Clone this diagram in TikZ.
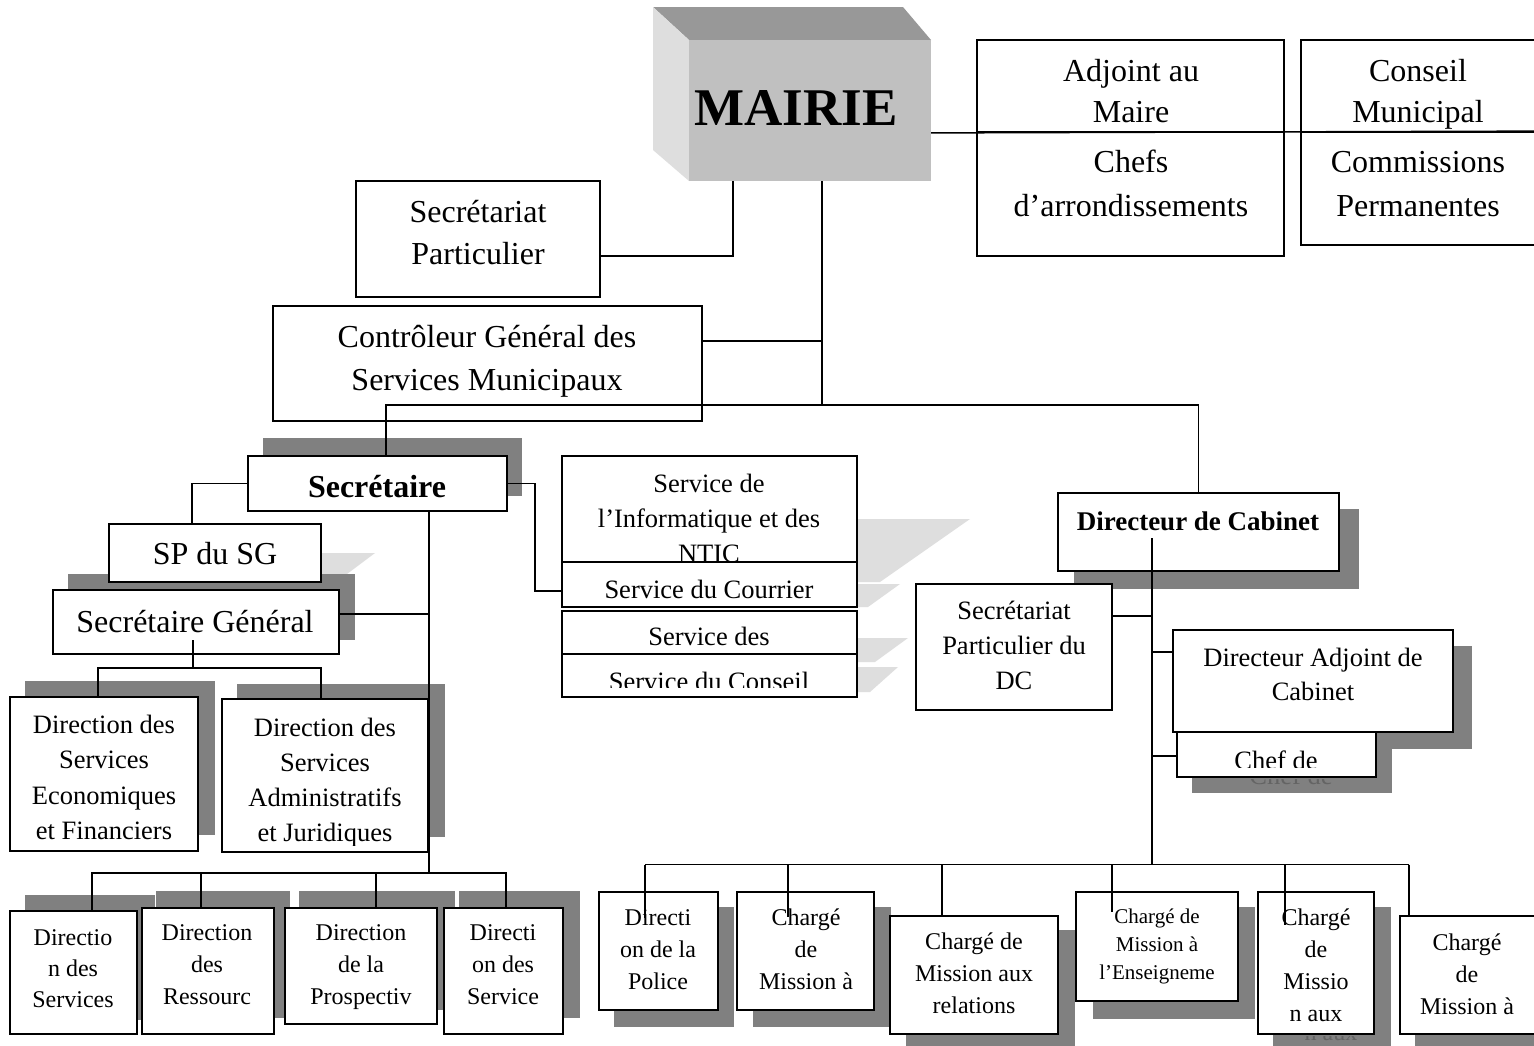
\documentclass[tikz,border=0pt]{standalone}
\usepackage{fontspec}
\setmainfont{Liberation Serif}
\definecolor{shadowgray}{RGB}{128,128,128}
\definecolor{lightshade}{RGB}{222,222,222}
\definecolor{ghost}{RGB}{100,100,100}
\definecolor{mfront}{RGB}{192,192,192}
\definecolor{mtop}{RGB}{152,152,152}
\definecolor{mleft}{RGB}{222,222,222}
\newcommand\fz[1]{\fontsize{#1pt}{#1pt}\selectfont}
\newcommand\obox[5]{\node[obx, minimum width={(#4-#2)*1pt}, minimum height={(#5-#3)*1pt}] (#1) at ({(#2+#4)/2},{(#3+#5)/2}) {};}
\newcommand\otext[6]{\foreach \lineT [count=\lineI] in {#6} {\node[anchor=base, inner sep=0pt, font={#5}] (#1-\lineI) at (#2,{#3+(\lineI-1)*#4}) {\lineT};}}
\begin{document}
\begin{tikzpicture}[x=1pt,y=-1pt,
  obx/.style={draw=black, fill=white, line width=1.8pt, inner sep=0pt},
  con/.style={draw=black, line width=1.5pt},
  shd/.style={fill=shadowgray},
  lsh/.style={fill=lightshade}]
\useasboundingbox (0,0) rectangle (1534,1045);
\clip (0,0) rectangle (1534,1045);
\fill[white] (0,0) rectangle (1534,1045);

% MAIRIE block
\fill[mtop] (653,7) -- (903,7) -- (931,40) -- (689,40) -- cycle;
\fill[mleft] (653,7) -- (689,40) -- (689,181) -- (653,150) -- cycle;
\node[fill=mfront, draw=none, inner sep=0pt, minimum width=242pt, minimum height=141pt] (mairie) at (810,110.5) {};
\node[anchor=base, inner sep=0pt, font={\fz{53}\bfseries}] (mairie-t) at (796,125) {MAIRIE};

% shadows
\fill[lsh] (321,553) -- (375,553) -- (335,583) -- (321,583) -- cycle;
\fill[lsh] (857,519) -- (970,519) -- (880,582) -- (857,582) -- cycle;
\fill[lsh] (857,584) -- (900,584) -- (868,607) -- (857,607) -- cycle;
\fill[lsh] (857,638) -- (908,638) -- (875,662) -- (857,662) -- cycle;
\fill[lsh] (857,667) -- (898,667) -- (870,692) -- (857,692) -- cycle;
\fill[shd] (263,438) rectangle (522,496);
\fill[shd] (68,574) rectangle (355,640);
\fill[shd] (25,681) rectangle (215,835);
\fill[shd] (237,684) rectangle (445,837);
\fill[shd] (25,895) rectangle (155,1020);
\fill[shd] (156,891) rectangle (290,1018);
\fill[shd] (299,891) rectangle (455,1010);
\fill[shd] (459,891) rectangle (580,1018);
\fill[shd] (1074,509) rectangle (1359,589);
\fill[shd] (1190,646) rectangle (1472,749);
\fill[shd] (1192,749) rectangle (1392,793);
\fill[shd] (614,907) rectangle (734,1027);
\fill[shd] (753,907) rectangle (891,1027);
\fill[shd] (906,930) rectangle (1075,1050);
\fill[shd] (1093,907) rectangle (1255,1019);
\fill[shd] (1273,907) rectangle (1391,1050);
\fill[shd] (1415,930) rectangle (1550,1050);

% top boxes
\obox{sp}{356}{181}{600}{297}
\otext{spt}{478}{222}{42}{\fz{32}}{Secrétariat,Particulier}
\obox{ctrl}{273}{306}{702}{421}
\otext{ctrlt}{487}{347}{43}{\fz{32}}{Contrôleur Général des,Services Municipaux}
\obox{adj}{977}{40}{1284}{132}
\otext{adjt}{1131}{81}{41}{\fz{32}}{Adjoint au,Maire}
\obox{chefs}{977}{132}{1284}{256}
\otext{chefst}{1131}{172}{44}{\fz{32}}{Chefs,d’arrondissements}
\obox{cons}{1301}{40}{1545}{132}
\begin{scope}
\clip (1301,40) rectangle (1545,130);
\otext{const}{1418}{81}{41}{\fz{32}}{Conseil,Municipal}
\end{scope}
\obox{comm}{1301}{132}{1545}{245}
\otext{commt}{1418}{172}{44}{\fz{32}}{Commissions,Permanentes}

% secretariat side
\obox{sec}{248}{456}{507}{511}
\otext{sect}{377}{497}{0}{\fz{32}\bfseries}{Secrétaire}
\obox{spsg}{109}{524}{321}{582}
\otext{spsgt}{215}{564}{0}{\fz{32}}{SP du SG}
\obox{sg}{53}{590}{339}{654}
\otext{sgt}{195}{632}{0}{\fz{32}}{Secrétaire Général}
\obox{dsef}{10}{697}{198}{851}
\otext{dseft}{104}{733}{35.5}{\fz{26.5}}{Direction des,Services,Economiques,et Financiers}
\obox{dsaj}{222}{699}{428}{852}
\begin{scope}
\clip (222,699) rectangle (428,845);
\otext{dsajt}{325}{736}{35}{\fz{26.5}}{Direction des,Services,Administratifs,et Juridiques}
\end{scope}

% services
\obox{inf}{562}{456}{857}{562}
\otext{inft}{709}{492}{35}{\fz{26.5}}{Service de,l’Informatique et des,NTIC}
\obox{cour}{562}{562}{857}{607}
\otext{court}{709}{598}{0}{\fz{26.5}}{Service du Courrier}
\obox{sdes}{562}{611}{857}{654}
\otext{sdest}{709}{645}{0}{\fz{26.5}}{Service des}
\obox{scons}{562}{654}{857}{697}
\begin{scope}
\clip (562,654) rectangle (857,687);
\otext{sconst}{709}{690}{0}{\fz{26.5}}{Service du Conseil}
\end{scope}

% cabinet side
\obox{dc}{1058}{493}{1339}{571}
\otext{dct}{1198}{530}{0}{\fz{27}\bfseries}{Directeur de Cabinet}
\obox{spdc}{916}{584}{1112}{710}
\otext{spdct}{1014}{619}{35}{\fz{26.5}}{Secrétariat,Particulier du,DC}
\obox{da}{1173}{630}{1453}{732}
\otext{dat}{1313}{666}{34}{\fz{26.5}}{Directeur Adjoint de,Cabinet}
\obox{chef}{1177}{732}{1376}{777}
\begin{scope}
\clip (1177,732) rectangle (1376,767);
\otext{chft}{1276}{769}{0}{\fz{26.5}}{Chef de}
\end{scope}
\begin{scope}
\clip (1192,779) rectangle (1392,793);
\node[anchor=base, inner sep=0pt, font={\fz{26.5}}, text=ghost] (chef-g) at (1291,784) {Chef de};
\end{scope}

% bottom left row
\obox{b1}{10}{911}{137}{1034}
\otext{b1t}{73}{945}{31}{\fz{24}}{Directio,n des,Services}
\obox{b2}{142}{908}{274}{1034}
\otext{b2t}{207}{940}{32}{\fz{24}}{Direction,des,Ressourc}
\obox{b3}{285}{908}{437}{1024}
\otext{b3t}{361}{940}{32}{\fz{24}}{Direction,de la,Prospectiv}
\obox{b4}{444}{908}{563}{1034}
\otext{b4t}{503}{940}{32}{\fz{24}}{Directi,on des,Service}

% bottom right row
\obox{r1}{599}{892}{718}{1010}
\otext{r1t}{658}{925}{32}{\fz{24}}{Directi,on de la,Police}
\obox{r2}{737}{892}{874}{1010}
\otext{r2t}{806}{925}{32}{\fz{24}}{Chargé,de,Mission à}
\obox{r3}{890}{916}{1058}{1034}
\otext{r3t}{974}{949}{32}{\fz{24}}{Chargé de,Mission aux,relations}
\obox{r4}{1076}{892}{1238}{1001}
\otext{r4t}{1157}{923}{28}{\fz{21}}{Chargé de,Mission à,l’Enseigneme}
\obox{r5}{1258}{892}{1374}{1034}
\otext{r5t}{1316}{925}{32}{\fz{24}}{Chargé,de,Missio,n aux}
\begin{scope}
\clip (1273,1036) rectangle (1391,1045);
\node[anchor=base, inner sep=0pt, font={\fz{24}}, text=ghost] (r5-g) at (1331,1040) {n aux};
\end{scope}
\obox{r6}{1400}{916}{1545}{1034}
\otext{r6t}{1467}{950}{32}{\fz{24}}{Chargé,de,Mission à}

% junction coordinates
\coordinate (jsp) at (733,256);
\coordinate (jm1) at (822,341);
\coordinate (jm2) at (822,405);
\coordinate (jl) at (386,405);
\coordinate (jsl) at (192,483.5);
\coordinate (jsr1) at (535,483.5);
\coordinate (jsr2) at (535,591);
\coordinate (jv) at (429,873);
\coordinate (jsg) at (429,614);
\coordinate (jb1) at (92,873);
\coordinate (jb2) at (201,873);
\coordinate (jb3) at (376,873);
\coordinate (jb4) at (506,873);
\coordinate (jg1) at (193,640);
\coordinate (jg2) at (193,668);
\coordinate (jgl) at (98,668);
\coordinate (jgr) at (321,668);
\coordinate (jd1) at (1152,538);
\coordinate (jd2) at (1152,864.5);
\coordinate (jd3) at (1152,616);
\coordinate (jd4) at (1152,652);
\coordinate (jd5) at (1152,756);
\coordinate (jr1) at (645,864.5);
\coordinate (jr2) at (788,864.5);
\coordinate (jr3) at (942,864.5);
\coordinate (jr4) at (1112,864.5);
\coordinate (jr5) at (1285,864.5);
\coordinate (jr6) at (1409,864.5);
\coordinate (e1) at (645,918);
\coordinate (e2) at (788,917);
\coordinate (e4) at (1112,912);
\coordinate (e5) at (1285,925);

% connectors
\draw[con] (adj.south -| mairie.east) -- (comm.north east);
\draw[con] (sp.east |- jsp) -- (jsp) -- (jsp |- mairie.south);
\draw[con] (mairie.south -| jm1) -- (jm2);
\draw[con] (ctrl.east |- jm1) -- (jm1);
\draw[con] (jl |- sec.north) -- (jl) -- (jm2) -| (dc.north);
\draw[con] (sec.west) -- (jsl) -- (jsl |- spsg.north);
\draw[con] (sec.east) -- (jsr1) -- (jsr2) -- (jsr2 -| cour.west);
\draw[con] (jv |- sec.south) -- (jv);
\draw[con] (sg.east |- jsg) -- (jsg);
\draw[con] (jb1 |- b1.north) -- (jb1) -- (jb4) -- (jb4 |- b4.north);
\draw[con] (jb2) -- (jb2 |- b2.north);
\draw[con] (jb3) -- (jb3 |- b3.north);
\draw[con] (jg1) -- (jg2);
\draw[con] (jgl |- dsef.north) -- (jgl) -- (jgr) -- (jgr |- dsaj.north);
\draw[con] (jd1) -- (jd2);
\draw[con] (spdc.east |- jd3) -- (jd3);
\draw[con] (jd4) -- (jd4 -| da.west);
\draw[con] (jd5) -- (jd5 -| chef.west);
\draw[con] (jr1) -- (jr6);
\draw[con] (jr1) -- (e1);
\draw[con] (jr2) -- (e2);
\draw[con] (jr3) -- (jr3 |- r3.north);
\draw[con] (jr4) -- (e4);
\draw[con] (jr5) -- (e5);
\draw[con] (jr6) -- (jr6 |- r6.north);
\end{tikzpicture}
\end{document}
